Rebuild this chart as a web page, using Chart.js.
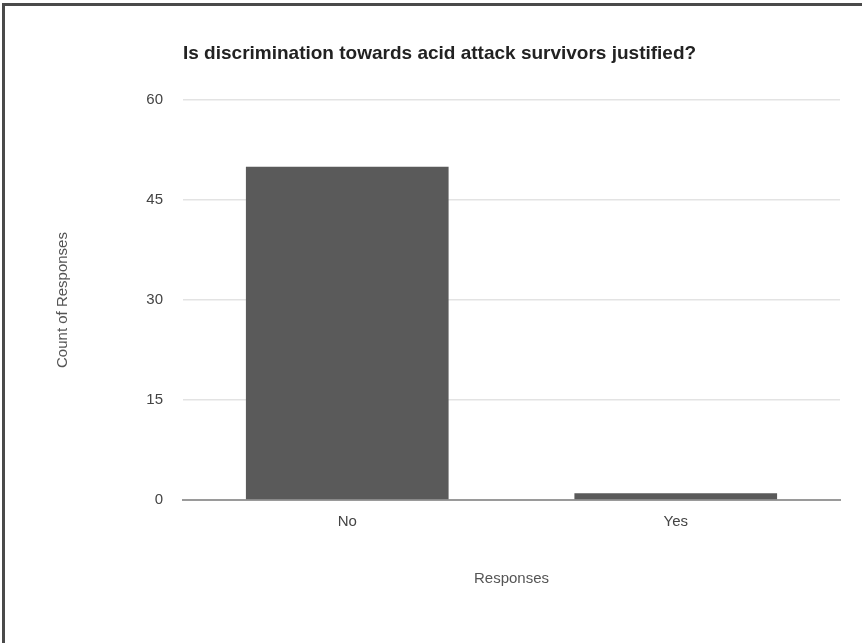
<!DOCTYPE html>
<html>
<head>
<meta charset="utf-8">
<script src="https://cdn.jsdelivr.net/npm/chart.js@4"></script>
<style>
  html, body { margin: 0; padding: 0; background: #fff; }
  #wrap {
    position: absolute; left: 2px; top: 3px;
    width: 857px; height: 637px;
    border-left: 3px solid #4a4a4a; border-top: 3px solid #4a4a4a;
  }
  canvas { display: block; }
</style>
</head>
<body>
<div id="wrap"><canvas id="chart" width="857" height="637"></canvas></div>
<script>
const categories = ['No', 'Yes'];
const counts = [50, 1];
const yTicks = [0, 15, 30, 45, 60];

const ctx = document.getElementById('chart').getContext('2d');

// bar chart of survey answers
const chart = new Chart(ctx, {
    type: 'bar',
    data: {
        labels: categories,
        datasets: [{
            label: 'Count of Responses',
            data: counts,
            backgroundColor: '#5a5a5a',
            barPercentage: 0.617,
            categoryPercentage: 1
        }]
    },
    options: {
        responsive: false,
        animation: false,
        layout: { padding: { left: 0, right: 22, top: 0, bottom: 0 } },
        plugins: {
            legend: { display: false },
            tooltip: { enabled: false },
            title: {
                display: true,
                text: 'Is discrimination towards acid attack survivors justified?',
                align: 'start',
                fullSize: false,
                color: '#222',
                font: { family: 'Liberation Sans', size: 19, weight: 'bold' },
                padding: { top: 36.6, bottom: 34.6 }
            }
        },
        scales: {
            x: {
                grid: { display: false, drawTicks: false },
                border: { color: '#9a9a9a', width: 2 },
                ticks: { color: '#444', padding: 13, font: { family: 'Liberation Sans', size: 15 } },
                title: {
                    display: true,
                    text: 'Responses',
                    color: '#555',
                    font: { family: 'Liberation Sans', size: 15 },
                    padding: { top: 0, bottom: 55 }
                },
                afterFit: (s) => { s.height = 143; }
            },
            y: {
                min: yTicks[0],
                max: yTicks[yTicks.length - 1],
                afterBuildTicks: (s) => { s.ticks = yTicks.map(v => ({ value: v })); },
                grid: { color: '#e3e3e3', lineWidth: 1.5, drawTicks: false },
                border: { display: false },
                ticks: { color: '#444', padding: 20, font: { family: 'Liberation Sans', size: 15 } },
                title: {
                    display: true,
                    text: 'Count of Responses',
                    color: '#555',
                    font: { family: 'Liberation Sans', size: 15 },
                    padding: { top: 49, bottom: 0 }
                },
                afterFit: (s) => { s.width = 178; }
            }
        }
    }
});
</script>
</body>
</html>
